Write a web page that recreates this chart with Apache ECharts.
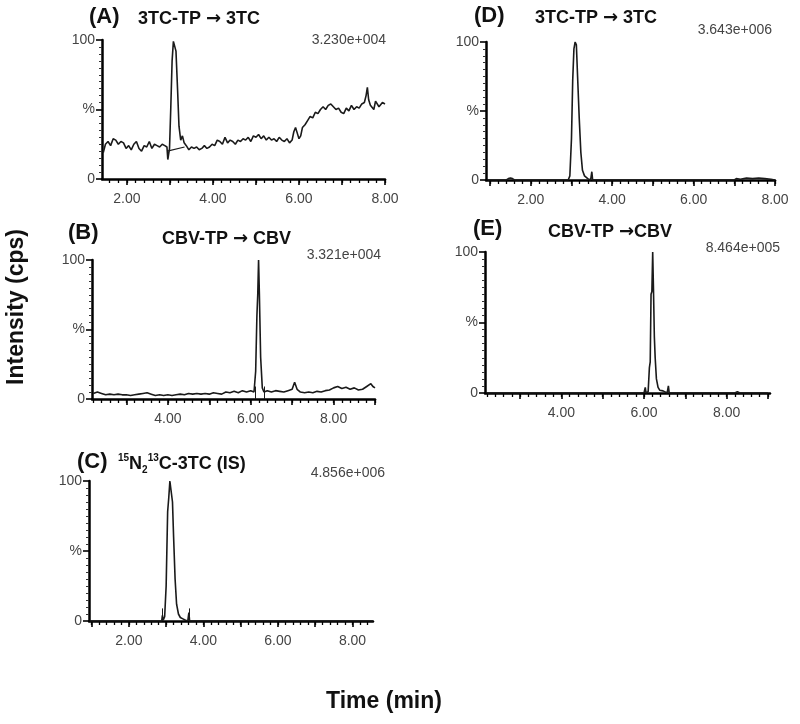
<!DOCTYPE html>
<html>
<head>
<meta charset="utf-8">
<script src="https://cdn.jsdelivr.net/npm/echarts@6/dist/echarts.min.js"></script>
<style>
html, body { margin: 0; padding: 0; background: #fff; }
#chart { width: 800px; height: 724px; }
</style>
</head>
<body>
<div id="chart"></div>
<script>
// (A) 3TC-TP -> 3TC, noisy low level trace
const timeA = [1.45, 1.50, 1.56, 1.62, 1.68, 1.74, 1.80, 1.86, 1.92, 1.98, 2.04, 2.10, 2.16, 2.22, 2.28, 2.34, 2.40, 2.46, 2.52, 2.58,
  2.64, 2.70, 2.76, 2.82, 2.88, 2.93, 2.95, 2.99, 3.02, 3.05, 3.08, 3.11, 3.14, 3.18, 3.21, 3.25, 3.29, 3.33, 3.38, 3.44,
  3.50, 3.56, 3.62, 3.68, 3.74, 3.80, 3.86, 3.92, 3.98, 4.04, 4.10, 4.16, 4.22, 4.28, 4.34, 4.40, 4.46, 4.52, 4.58, 4.64,
  4.70, 4.76, 4.82, 4.88, 4.94, 5.00, 5.06, 5.12, 5.18, 5.24, 5.30, 5.36, 5.42, 5.48, 5.54, 5.60, 5.66, 5.72, 5.78, 5.84,
  5.88, 5.92, 5.96, 6.00, 6.04, 6.08, 6.14, 6.20, 6.26, 6.32, 6.38, 6.44, 6.50, 6.56, 6.62, 6.68, 6.74, 6.80, 6.86, 6.92,
  6.98, 7.04, 7.10, 7.16, 7.22, 7.28, 7.34, 7.40, 7.46, 7.52, 7.56, 7.59, 7.62, 7.66, 7.70, 7.74, 7.78, 7.82, 7.86, 7.90,
  7.94, 8.00];
const intA = [19, 25, 27, 24, 29, 28, 25, 27, 26, 22, 24, 21, 25, 27, 22, 20, 24, 23, 27, 22,
  25, 24, 23, 25, 24, 23, 14, 22, 52, 85, 99, 100, 92, 62, 38, 28, 31, 26, 24, 21,
  23, 22, 23, 21, 22, 24, 22, 23, 25, 24, 28, 27, 25, 30, 26, 28, 27, 25, 28, 27,
  29, 28, 30, 27, 31, 30, 32, 29, 31, 28, 30, 28, 29, 27, 30, 28, 27, 29, 26, 28,
  34, 37, 33, 29, 31, 37, 39, 42, 45, 44, 48, 47, 50, 52, 50, 53, 54, 52, 50, 51,
  48, 47, 51, 49, 53, 50, 52, 51, 54, 55, 60, 66, 57, 53, 52, 50, 56, 57, 52, 51,
  55, 54];
// integration baseline under the 3TC peak in (A)
const baseTimeA = [2.94, 3.34];
const baseIntA = [20, 23];

// (B) CBV-TP -> CBV, low level trace
const timeB = [2.20, 2.30, 2.40, 2.50, 2.60, 2.70, 2.80, 2.90, 3.00, 3.10, 3.20, 3.30, 3.40, 3.50, 3.60, 3.70, 3.80, 3.90, 4.00, 4.10,
  4.20, 4.30, 4.40, 4.50, 4.60, 4.70, 4.80, 4.90, 5.00, 5.10, 5.20, 5.30, 5.40, 5.50, 5.60, 5.70, 5.80, 5.90, 6.00, 6.08,
  6.12, 6.15, 6.17, 6.19, 6.21, 6.24, 6.28, 6.32, 6.40, 6.50, 6.60, 6.70, 6.80, 6.90, 7.00, 7.06, 7.12, 7.20, 7.30, 7.40,
  7.50, 7.60, 7.70, 7.80, 7.90, 8.00, 8.10, 8.20, 8.30, 8.40, 8.50, 8.60, 8.70, 8.80, 8.90, 8.95, 9.00];
const intB = [4, 5, 4, 3, 3.5, 3, 3.5, 3, 3, 2.5, 3, 3.5, 4, 4.5, 3.5, 2.5, 3, 2.5, 3, 2.5,
  3, 3.5, 3, 4, 3.5, 4, 3.5, 4, 3.5, 4.5, 4, 3.5, 5, 4.5, 5.5, 4.5, 6, 5, 6, 5,
  20, 60, 75, 100, 75, 30, 8, 5, 6, 5, 6, 5.5, 5, 6, 7, 12, 7, 5, 4.5, 5,
  4.5, 5.5, 5, 6, 6.5, 8, 9, 7.5, 8.5, 7, 8, 6.5, 7, 9, 11, 9, 8];
const marksB = [6.10, 6.33];

// (C) 15N2 13C-3TC internal standard
const timeC = [0.95, 2.00, 2.80, 2.88, 2.90, 2.92, 2.96, 3.00, 3.04, 3.07, 3.10, 3.14, 3.17, 3.20, 3.24, 3.28, 3.33, 3.38, 3.45, 3.52,
  3.58, 3.61, 3.63, 4.00, 5.00, 6.00, 7.00, 8.00, 8.55];
const intC = [0, 0, 0, 0, 4, 0.5, 3, 25, 78, 88, 100, 100, 85, 60, 30, 12, 5, 2.5, 1.5, 0.5,
  0, 6, 0, 0, 0, 0, 0, 0, 0];
const marksC = [2.90, 3.61];

// (D) 3TC-TP -> 3TC, high level
const timeD = [0.95, 1.40, 1.45, 1.50, 1.55, 1.60, 2.00, 2.50, 2.92, 2.96, 3.00, 3.03, 3.06, 3.09, 3.12, 3.15, 3.19, 3.23, 3.27, 3.32,
  3.40, 3.47, 3.50, 3.52, 4.00, 5.00, 6.00, 7.00, 7.05, 7.15, 7.30, 7.45, 7.60, 7.75, 7.90, 8.00];
const intD = [0, 0, 1, 1.5, 1, 0, 0, 0, 0, 3, 30, 72, 95, 100, 98, 75, 45, 20, 7, 3,
  1, 0, 6, 0, 0, 0, 0, 0, 1, 0.5, 1.5, 1, 1.5, 1, 0.5, 0];

// (E) CBV-TP -> CBV, high level
const timeE = [2.20, 3.00, 4.00, 5.00, 6.00, 6.03, 6.05, 6.10, 6.13, 6.15, 6.17, 6.19, 6.21, 6.23, 6.25, 6.27, 6.30, 6.34, 6.38, 6.42,
  6.46, 6.50, 6.56, 6.59, 6.61, 7.00, 8.00, 8.20, 8.26, 8.32, 9.00];
const intE = [0, 0, 0, 0, 0, 4, 0, 1, 18, 22, 70, 72, 100, 72, 40, 25, 10, 4, 2, 1,
  1.5, 0.5, 0, 5, 0, 0, 0, 0, 1, 0, 0];

// axis tick labels
const xLabelsA = [2, 4, 6, 8];
const xLabelsB = [4, 6, 8];
const xLabelsC = [2, 4, 6, 8];
const xLabelsD = [2, 4, 6, 8];
const xLabelsE = [4, 6, 8];
const yTicks = [0, 50, 100];
const yTickText = ['0', '%', '100'];

const panelTitles = ['{b|3TC-TP }{a|\u2192}{b| 3TC}', '{b|CBV-TP }{a|\u2192}{b| CBV}', '{sup|15}{b|N}{sub|2}{sup|13}{b|C-3TC (IS)}',
  '{b|3TC-TP }{a|\u2192}{b| 3TC}', '{b|CBV-TP }{a|\u2192}{b|CBV}'];
const panelTags = ['(A)', '(B)', '(C)', '(D)', '(E)'];
const panelScales = ['3.230e+004', '3.321e+004', '4.856e+006', '3.643e+006', '8.464e+005'];

const panels = [
  { t: timeA, v: intA, labels: xLabelsA, grid: { left: 102, top: 40, width: 283, height: 139 }, min: 1.42, max: 8.0,
    tag: [89, 18], title: [138, 21], scale: [386, 41] },
  { t: timeB, v: intB, labels: xLabelsB, grid: { left: 92, top: 260, width: 283, height: 139 }, min: 2.17, max: 9.0,
    tag: [68, 234], title: [162, 241], scale: [381, 256], marks: marksB },
  { t: timeC, v: intC, labels: xLabelsC, grid: { left: 89, top: 481, width: 284, height: 140 }, min: 0.93, max: 8.55,
    tag: [77, 463], title: [118, 464], scale: [385, 474], marks: marksC },
  { t: timeD, v: intD, labels: xLabelsD, grid: { left: 486, top: 42, width: 289, height: 138 }, min: 0.9, max: 8.0,
    tag: [474, 17], title: [535, 20], scale: [772, 31] },
  { t: timeE, v: intE, labels: xLabelsE, grid: { left: 485, top: 252, width: 285, height: 141 }, min: 2.15, max: 9.05,
    tag: [473, 230], title: [548, 234], scale: [780, 249] }
];

const lineColor = '#1a1a1a';
const axisColor = '#000';
const labelColor = '#444';

function range(min, max, step) {
  const out = [];
  for (let k = Math.ceil(min / step - 1e-6); k * step <= max + 1e-6; k++) out.push(+(k * step).toFixed(2));
  return out;
}

const grid = [], xAxis = [], yAxis = [], series = [], graphic = [];

panels.forEach(function (p, i) {
  grid.push(Object.assign({ containLabel: false }, p.grid));
  // major axis
  xAxis.push({
    type: 'value', gridIndex: i, min: p.min, max: p.max, position: 'bottom',
    axisLine: { onZero: false, lineStyle: { color: axisColor, width: 2.5 } },
    axisTick: { show: true, length: 6, lineStyle: { color: axisColor, width: 1.6 }, customValues: range(p.min, p.max, 1) },
    axisLabel: { customValues: p.labels, formatter: function (v) { return v.toFixed(2); }, color: labelColor,
      fontSize: 14, fontFamily: 'Liberation Sans', margin: 13 },
    splitLine: { show: false }
  });
  // minor ticks
  xAxis.push({
    type: 'value', gridIndex: i, min: p.min, max: p.max, position: 'bottom',
    axisLine: { show: false, onZero: false },
    axisTick: { show: true, length: 4, lineStyle: { color: axisColor, width: 1.3 }, customValues: range(p.min, p.max, 0.2) },
    axisLabel: { show: false },
    splitLine: { show: false }
  });
  yAxis.push({
    type: 'value', gridIndex: i, min: 0, max: 100, interval: 50,
    axisLine: { show: true, lineStyle: { color: axisColor, width: 2.5 } },
    axisTick: { show: true, length: 6, lineStyle: { color: axisColor, width: 1.6 } },
    minorTick: { show: true, splitNumber: 10, length: 3, lineStyle: { color: '#333', width: 1 } },
    axisLabel: { formatter: function (v) { return yTickText[yTicks.indexOf(v)]; }, color: labelColor,
      fontSize: 14, fontFamily: 'Liberation Sans', margin: 7 },
    splitLine: { show: false }, minorSplitLine: { show: false }
  });
  const s = {
    type: 'line', xAxisIndex: 2 * i, yAxisIndex: i, symbol: 'none', silent: true,
    lineStyle: { color: lineColor, width: 1.6 },
    data: p.t.map(function (t, k) { return [t, p.v[k]]; })
  };
  if (p.marks) {
    s.markLine = {
      silent: true, symbol: 'none', label: { show: false },
      lineStyle: { color: lineColor, width: 1, type: 'solid' },
      data: p.marks.map(function (m) { return [{ coord: [m, 0] }, { coord: [m, 9] }]; })
    };
  }
  series.push(s);

  graphic.push({ type: 'text', left: p.tag[0], top: p.tag[1] - 12, style: {
    text: panelTags[i], font: 'bold 22px "Liberation Sans"', fill: '#111' } });
  graphic.push({ type: 'text', left: p.title[0], top: p.title[1] - 11, style: {
    text: panelTitles[i], font: 'bold 18px "Liberation Sans"', fill: '#111',
    rich: {
      b: { fontSize: 18, fontWeight: 'bold', fontFamily: 'Liberation Sans', lineHeight: 22 },
      a: { fontSize: 18, fontWeight: 'bold', fontFamily: 'DejaVu Sans', lineHeight: 22 },
      sup: { fontSize: 10, fontWeight: 'bold', fontFamily: 'Liberation Sans', verticalAlign: 'top', lineHeight: 12 },
      sub: { fontSize: 10, fontWeight: 'bold', fontFamily: 'Liberation Sans', verticalAlign: 'bottom', lineHeight: 10 }
    } } });
  graphic.push({ type: 'text', right: 800 - p.scale[0], top: p.scale[1] - 8, style: {
    text: panelScales[i], font: '14px "Liberation Sans"', fill: labelColor } });
});

// integration baseline segment in (A)
series.push({
  type: 'line', xAxisIndex: 0, yAxisIndex: 0, symbol: 'none', silent: true,
  lineStyle: { color: lineColor, width: 1.2 },
  data: baseTimeA.map(function (t, k) { return [t, baseIntA[k]]; })
});

graphic.push({ type: 'text', x: 17, y: 307, rotation: Math.PI / 2, style: {
  text: 'Intensity (cps)', font: 'bold 23px "Liberation Sans"', fill: '#111', align: 'center', verticalAlign: 'middle' } });
graphic.push({ type: 'text', x: 384, y: 702, style: {
  text: 'Time (min)', font: 'bold 23px "Liberation Sans"', fill: '#111', align: 'center', verticalAlign: 'middle' } });

const chart = echarts.init(document.getElementById('chart'), null, { renderer: 'canvas' });
chart.setOption({
  backgroundColor: '#fff',
  animation: false,
  grid: grid,
  xAxis: xAxis,
  yAxis: yAxis,
  series: series,
  graphic: graphic
});
window.addEventListener('resize', function () { chart.resize(); });
</script>
</body>
</html>
